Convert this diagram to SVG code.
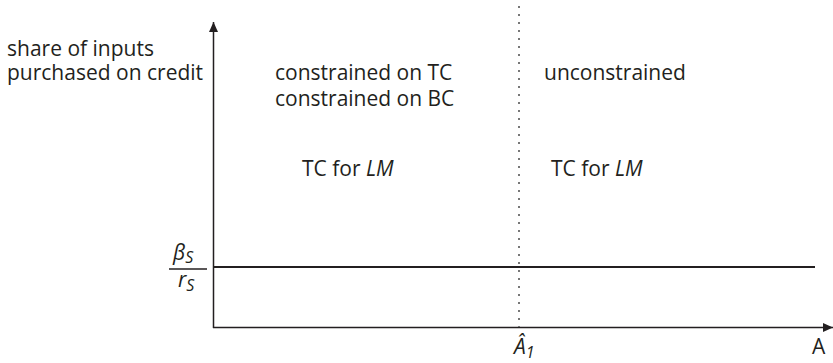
<svg xmlns="http://www.w3.org/2000/svg" width="833" height="363" viewBox="0 0 833 363">
<style>
text{font-family:"Open Sans","Liberation Sans",sans-serif;font-size:21px;fill:#231f20}
.it{font-style:italic}
.sub{font-size:16px;font-style:italic}
.ax{stroke:#231f20;stroke-width:1.5;fill:none}
</style>
<defs>
<marker id="ah" viewBox="0 0 10 10" refX="10" refY="5" markerWidth="10" markerHeight="10" markerUnits="userSpaceOnUse" orient="auto">
<path d="M0,0.5 L10,5 L0,9.5 Z" fill="#231f20"/>
</marker>
</defs>
<g id="connectors">
<line class="ax" x1="213.5" y1="328" x2="213.5" y2="22" marker-end="url(#ah)"/>
<line class="ax" x1="213" y1="327.5" x2="833" y2="327.5" marker-end="url(#ah)"/>
<line x1="213" y1="267" x2="815" y2="267" stroke="#231f20" stroke-width="2"/>
<line x1="519" y1="6" x2="519" y2="327" stroke="#777" stroke-width="2" stroke-dasharray="2,6"/>
</g>
<g id="y-label">
<text x="7" y="56">share of inputs</text>
<text x="7" y="80">purchased on credit</text>
</g>
<g id="region-left">
<text x="275" y="80">constrained on TC</text>
<text x="275" y="106">constrained on BC</text>
<text x="302" y="176">TC for <tspan class="it">LM</tspan></text>
</g>
<g id="region-right">
<text x="544" y="80">unconstrained</text>
<text x="551" y="176">TC for <tspan class="it">LM</tspan></text>
</g>
<g id="ratio">
<text x="173" y="260" class="it">β<tspan class="sub" dy="3">S</tspan></text>
<line x1="169" y1="269" x2="207" y2="269" stroke="#231f20" stroke-width="1.5"/>
<text x="178" y="287" class="it">r<tspan class="sub" dy="4">S</tspan></text>
</g>
<g id="x-labels">
<text x="514" y="354" class="it">Â<tspan class="sub" font-style="normal" font-size="15px" dy="4">1</tspan></text>
<text x="812" y="354">A</text>
</g>
</svg>
